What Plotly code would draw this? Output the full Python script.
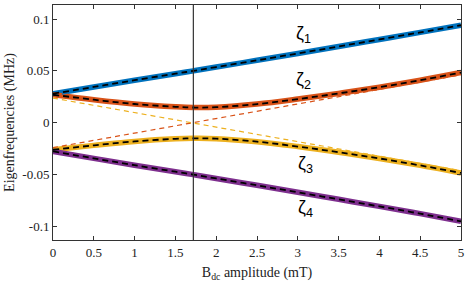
import plotly.graph_objects as go

# Data
B = [0, 0.5, 1, 1.5, 1.72, 2, 2.5, 3, 3.5, 4, 4.5, 5]
zeta1 = [0.028, 0.0345, 0.041, 0.0473, 0.050, 0.0537, 0.0602, 0.0668, 0.0735, 0.0803, 0.0871, 0.094]
zeta2 = [0.027, 0.0222, 0.0181, 0.0154, 0.0147, 0.0150, 0.0180, 0.0228, 0.0283, 0.0343, 0.0410, 0.0484]
zeta3 = [-0.026, -0.0218, -0.0180, -0.0155, -0.0150, -0.0153, -0.0182, -0.0229, -0.0284, -0.0344, -0.0411, -0.0484]
zeta4 = [-0.0276, -0.0343, -0.0409, -0.0472, -0.050, -0.0537, -0.0603, -0.0670, -0.0738, -0.0806, -0.0876, -0.095]

B_unc = [0, 5]
unc1 = [0.0262, 0.094]
unc2 = [-0.024, 0.0462]
unc3 = [0.0238, -0.0462]
unc4 = [-0.0262, -0.094]

B_marker = 1.72

labels = ["ζ<sub>1</sub>", "ζ<sub>2</sub>", "ζ<sub>3</sub>", "ζ<sub>4</sub>"]
label_x = [3.07, 3.07, 3.09, 3.09]
label_y = [0.085, 0.0405, -0.040, -0.083]

xtickvals = [0, 0.5, 1, 1.5, 2, 2.5, 3, 3.5, 4, 4.5, 5]
xticktext = ["0", "0.5", "1", "1.5", "2", "2.5", "3", "3.5", "4", "4.5", "5"]
ytickvals = [-0.1, -0.05, 0, 0.05, 0.1]
yticktext = ["-0.1", "-0.05", "0", "0.05", "0.1"]

colors = ["#0072BD", "#D95319", "#EDB120", "#7E2F8E"]

SERIF = "Times New Roman, Liberation Serif, serif"

fig = go.Figure()
for z, c in zip([zeta1, zeta2, zeta3, zeta4], colors):
    fig.add_trace(go.Scatter(x=B, y=z, mode="lines", line=dict(color=c, width=5.5, shape="spline"),
                             showlegend=False, hoverinfo="skip"))
for u, c in zip([unc1, unc2, unc3, unc4], colors):
    fig.add_trace(go.Scatter(x=B_unc, y=u, mode="lines", line=dict(color=c, width=1.2, dash="5px,4px"),
                             showlegend=False, hoverinfo="skip"))
for z in [zeta1, zeta2, zeta3, zeta4]:
    fig.add_trace(go.Scatter(x=B, y=z, mode="lines", line=dict(color="black", width=1.8, dash="6px,4px", shape="spline"),
                             showlegend=False, hoverinfo="skip"))

fig.add_vline(x=B_marker, line=dict(color="#333333", width=1.2))

for t, xx, yy in zip(labels, label_x, label_y):
    fig.add_annotation(x=xx, y=yy, text=t, showarrow=False,
                       font=dict(family="Liberation Sans", size=18, color="black"))

axis_common = dict(showline=True, linecolor="#333333", linewidth=1, mirror="ticks",
                   ticks="inside", ticklen=4, tickcolor="#333333", showgrid=False, zeroline=False,
                   ticklabeloverflow="allow", automargin=False,
                   tickfont=dict(family=SERIF, size=13, color="#222222"))

fig.update_xaxes(range=[0, 5], tickvals=xtickvals, ticktext=xticktext,
                 title=dict(text="B<sub>dc</sub> amplitude (mT)", standoff=8,
                            font=dict(family=SERIF, size=14, color="#222222")),
                 **axis_common)
fig.update_yaxes(range=[-0.113, 0.1135], tickvals=ytickvals, ticktext=yticktext,
                 title=dict(text="Eigenfrequencies (MHz)", standoff=4,
                            font=dict(family=SERIF, size=14, color="#222222")),
                 **axis_common)

fig.update_layout(width=469, height=288, margin=dict(l=53, r=8, t=5, b=48),
                  font=dict(family=SERIF, size=13, color="#222222"),
                  plot_bgcolor="white", paper_bgcolor="white")

fig.write_html("out.html", config={"displayModeBar": False},
               post_script="document.body.style.margin='0';document.body.style.padding='0';")
